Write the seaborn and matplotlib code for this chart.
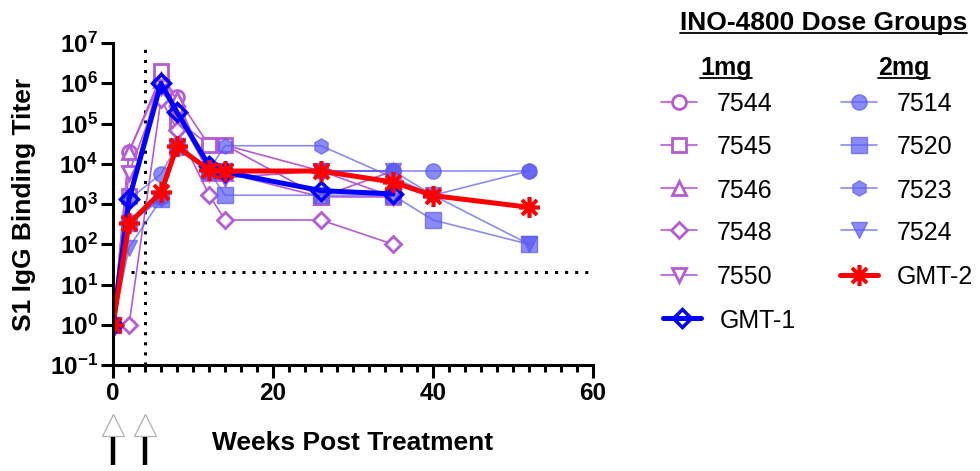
import numpy as np
import pandas as pd
import matplotlib
matplotlib.use("Agg")
import matplotlib.pyplot as plt
import matplotlib.transforms as mtransforms
from matplotlib.lines import Line2D
from matplotlib.ticker import FixedLocator, FuncFormatter, MultipleLocator, NullLocator
import seaborn as sns

# ---- data: S1 IgG binding titers by week ----
weeks_1mg = [0, 2, 6, 8, 12, 14, 26, 35]
weeks_2mg = [0, 2, 6, 8, 12, 14, 26, 35, 40, 52]

titer_7544 = [1, 2.0e4, 1.5e6, 4.5e5, 2.9e4, 2.9e4, 6.6e3, 6.6e3]
titer_7545 = [1, 1.6e3, 2.0e6, 1.2e5, 2.9e4, 2.9e4, 1.5e3, 1.5e3]
titer_7546 = [1, 2.0e4, 1.2e6, 4.0e5, 6.0e3, 6.0e3, 1.5e3, 6.6e3]
titer_7548 = [1, 1, 4.0e5, 7.0e4, 1.7e3, 4.0e2, 4.0e2, 1.0e2]
titer_7550 = [1, 6.0e3, 8.0e5, 1.8e5, 6.0e3, 4.5e3, 6.6e3, 1.5e3]

titer_7514 = [1, 1.3e3, 5.6e3, 2.8e4, 6.5e3, 6.6e3, 6.6e3, 6.6e3, 6.6e3, 6.6e3]
titer_7520 = [1, 330, 1.3e3, 2.6e4, 6.5e3, 1.65e3, 1.65e3, 1.65e3, 4.0e2, 1.0e2]
titer_7523 = [1, 330, 1.4e3, 2.7e4, 7.0e3, 2.8e4, 2.8e4, np.nan, 1.65e3, 6.6e3]
titer_7524 = [1, 83, 1.3e3, 2.7e4, 7.0e3, 6.6e3, 6.6e3, 6.6e3, 1.65e3, 1.0e2]

gmt_1 = [1, 1.3e3, 1.0e6, 1.9e5, 9.0e3, 6.2e3, 2.15e3, 1.78e3]
gmt_2 = [1, 330, 1.95e3, 2.7e4, 7.0e3, 6.6e3, 6.6e3, 3.5e3, 1.62e3, 830]

animals_1mg = ["7544", "7545", "7546", "7548", "7550"]
animals_2mg = ["7514", "7520", "7523", "7524"]
titers = {
    "7544": titer_7544, "7545": titer_7545, "7546": titer_7546,
    "7548": titer_7548, "7550": titer_7550,
    "7514": titer_7514, "7520": titer_7520, "7523": titer_7523,
    "7524": titer_7524,
}

lod_titer = 20          # assay limit of detection
lod_from_week = 2.3
boost_week = 4
dose_weeks = [0, 4]     # dosing days shown as arrows under the axis

y_ticks = [1e-1, 1e0, 1e1, 1e2, 1e3, 1e4, 1e5, 1e6, 1e7]
x_ticks = [0, 20, 40, 60]

# ---- long-form table ----
rows = []
for a in animals_1mg:
    for w, t in zip(weeks_1mg, titers[a]):
        rows.append(("1mg", a, w, t))
for a in animals_2mg:
    for w, t in zip(weeks_2mg, titers[a]):
        rows.append(("2mg", a, w, t))
df = pd.DataFrame(rows, columns=["group", "animal", "week", "titer"]).dropna()
gmt_df = pd.concat([
    pd.DataFrame({"series": "GMT-1", "week": weeks_1mg, "titer": gmt_1}),
    pd.DataFrame({"series": "GMT-2", "week": weeks_2mg, "titer": gmt_2}),
])

# ---- style ----
sns.set_theme(style="ticks")
plt.rcParams["font.family"] = ["Liberation Sans", "DejaVu Sans"]
plt.rcParams["mathtext.fontset"] = "custom"
plt.rcParams["mathtext.rm"] = "Liberation Sans"
plt.rcParams["mathtext.bf"] = "Liberation Sans:bold"
for key in ["text.color", "axes.labelcolor", "xtick.color", "ytick.color",
            "xtick.labelcolor", "ytick.labelcolor", "axes.edgecolor"]:
    plt.rcParams[key] = "black"

PURPLE = "#b65ad6"
BLUE_IND = "#5a5af5"
BLUE_GMT = "#0000ff"
RED_GMT = "#ff0000"

style_1mg = {
    "7544": dict(marker="o", markersize=10),
    "7545": dict(marker="s", markersize=10),
    "7546": dict(marker="^", markersize=10),
    "7548": dict(marker="D", markersize=8),
    "7550": dict(marker="v", markersize=10),
}
style_2mg = {
    "7514": dict(marker="o", markersize=11),
    "7520": dict(marker="s", markersize=11),
    "7523": dict(marker="h", markersize=11),
    "7524": dict(marker="v", markersize=11),
}

W, H = 980, 471
fig = plt.figure(figsize=(W / 100, H / 100), dpi=100)
ax = fig.add_axes([113 / W, 1 - 365 / H, (593 - 113) / W, (365 - 43) / H])


def px(x, y):
    return x / W, 1 - y / H


# individual animals, 1 mg
for a in animals_1mg:
    sub = df[df["animal"] == a]
    sns.lineplot(data=sub, x="week", y="titer", ax=ax, estimator=None, sort=False,
                 color=PURPLE, lw=1.2, mfc="white", mec=PURPLE, mew=2.0,
                 legend=False, **style_1mg[a])

# individual animals, 2 mg
for a in animals_2mg:
    sub = df[df["animal"] == a]
    sns.lineplot(data=sub, x="week", y="titer", ax=ax, estimator=None, sort=False,
                 color=BLUE_IND, lw=1.2, alpha=0.7, mfc=BLUE_IND, mec=BLUE_IND, mew=1.0,
                 legend=False, **style_2mg[a])

# geometric mean titers
sns.lineplot(data=gmt_df[gmt_df["series"] == "GMT-1"], x="week", y="titer", ax=ax,
             estimator=None, sort=False, color=BLUE_GMT, lw=3.6, marker="D",
             markersize=9, mfc="none", mec=BLUE_GMT, mew=2.5, legend=False)
sns.lineplot(data=gmt_df[gmt_df["series"] == "GMT-2"], x="week", y="titer", ax=ax,
             estimator=None, sort=False, color=RED_GMT, lw=3.6, marker=(8, 2, 0),
             markersize=15, mec=RED_GMT, mew=2.6, legend=False)

# reference lines: limit of detection and boost
dots = (0, (1, 2.3))
ax.plot([lod_from_week, 60], [lod_titer, lod_titer], color="black", lw=2.2,
        ls=dots, clip_on=False, zorder=1)
ax.plot([boost_week, boost_week], [1e-1, 1e7], color="black", lw=2.2,
        ls=dots, clip_on=False, zorder=1)

# axes
ax.set_yscale("log")
ax.set_ylim(1e-1, 1e7)
ax.set_xlim(0, 60)
ax.yaxis.set_major_locator(FixedLocator(y_ticks))
ax.yaxis.set_minor_locator(NullLocator())
ax.yaxis.set_major_formatter(FuncFormatter(
    lambda v, p: r"$\mathbf{10^{%d}}$" % int(round(np.log10(v)))))
ax.xaxis.set_major_locator(FixedLocator(x_ticks))
ax.xaxis.set_minor_locator(MultipleLocator(2))
for s in ["top", "right"]:
    ax.spines[s].set_visible(False)
for s in ["left", "bottom"]:
    ax.spines[s].set_linewidth(2.2)
    ax.spines[s].set_color("black")
ax.tick_params(axis="y", which="major", length=9, width=2.2, color="black",
               labelcolor="black", labelsize=17.5, pad=2, direction="out")
ax.tick_params(axis="x", which="major", length=9, width=2.2, color="black",
               labelcolor="black", labelsize=17.5, pad=3, direction="out")
ax.tick_params(axis="x", which="minor", length=5, width=2.2, color="black",
               direction="out")
for lab in ax.get_xticklabels():
    lab.set_fontweight("bold")
ax.set_xlabel("Weeks Post Treatment", fontsize=19, fontweight="bold", labelpad=19,
              color="black")
ax.set_ylabel("S1 IgG Binding Titer", fontsize=19, fontweight="bold", labelpad=10,
              color="black")
ax.grid(False)

# dosing arrows under the x axis
trans = mtransforms.blended_transform_factory(ax.transData, ax.transAxes)
for wk in dose_weeks:
    ax.plot([wk], [-(425 - 365) / 322], transform=trans, marker="^", markersize=16,
            mfc="white", mec="#b0b0b0", mew=0.9, clip_on=False, ls="none")
    ax.plot([wk, wk], [-(437 - 365) / 322, -(465 - 365) / 322], transform=trans,
            color="black", lw=3.2, clip_on=False, solid_capstyle="butt")

# legend, drawn as figure artists
fig.canvas.draw()
renderer = fig.canvas.get_renderer()


def underlined(x, y, s, size, weight="bold", ha="left"):
    t = fig.text(*px(x, y), s, fontsize=size, fontweight=weight, ha=ha, va="baseline",
                 color="black")
    bb = t.get_window_extent(renderer=renderer)
    yy = 1 - (y + 2.5) / H
    fig.add_artist(Line2D([bb.x0 / W, bb.x1 / W], [yy, yy], transform=fig.transFigure,
                          color="black", lw=1.3))


underlined(680, 30, "INO-4800 Dose Groups", 19)
underlined(726, 75, "1mg", 18, ha="center")
underlined(904, 75, "2mg", 18, ha="center")


def entry(xc, y, label, color, marker_kw, lw, line_len, text_x, line_alpha=1.0):
    x0, x1 = xc - line_len / 2, xc + line_len / 2
    fig.add_artist(Line2D([x0 / W, x1 / W], [1 - y / H] * 2, transform=fig.transFigure,
                          color=color, lw=lw, alpha=line_alpha))
    fig.add_artist(Line2D([xc / W], [1 - y / H], transform=fig.transFigure,
                          ls="none", **marker_kw))
    fig.text(*px(text_x, y), label, fontsize=18, ha="left", va="center_baseline",
             color="black")


rows_y = [101.7, 145, 188, 230, 275]
for a, yy in zip(animals_1mg, rows_y):
    entry(679, yy, a, PURPLE,
          dict(color=PURPLE, mfc="white", mec=PURPLE, mew=2.0, **style_1mg[a]),
          1.2, 36, 717)
for a, yy in zip(animals_2mg, rows_y):
    entry(859, yy, a, BLUE_IND,
          dict(color=BLUE_IND, mfc=BLUE_IND, mec=BLUE_IND, mew=1.0, alpha=0.7,
               **style_2mg[a]),
          1.2, 36, 897, line_alpha=0.7)
entry(682, 318, "GMT-1", BLUE_GMT,
      dict(marker="D", markersize=9, mfc="none", mec=BLUE_GMT, mew=2.5), 3.6, 38, 720)
entry(859, 275, "GMT-2", RED_GMT,
      dict(marker=(8, 2, 0), markersize=15, mec=RED_GMT, mew=2.6, color=RED_GMT),
      3.6, 38, 897)

fig.savefig("out.png", dpi=100)
